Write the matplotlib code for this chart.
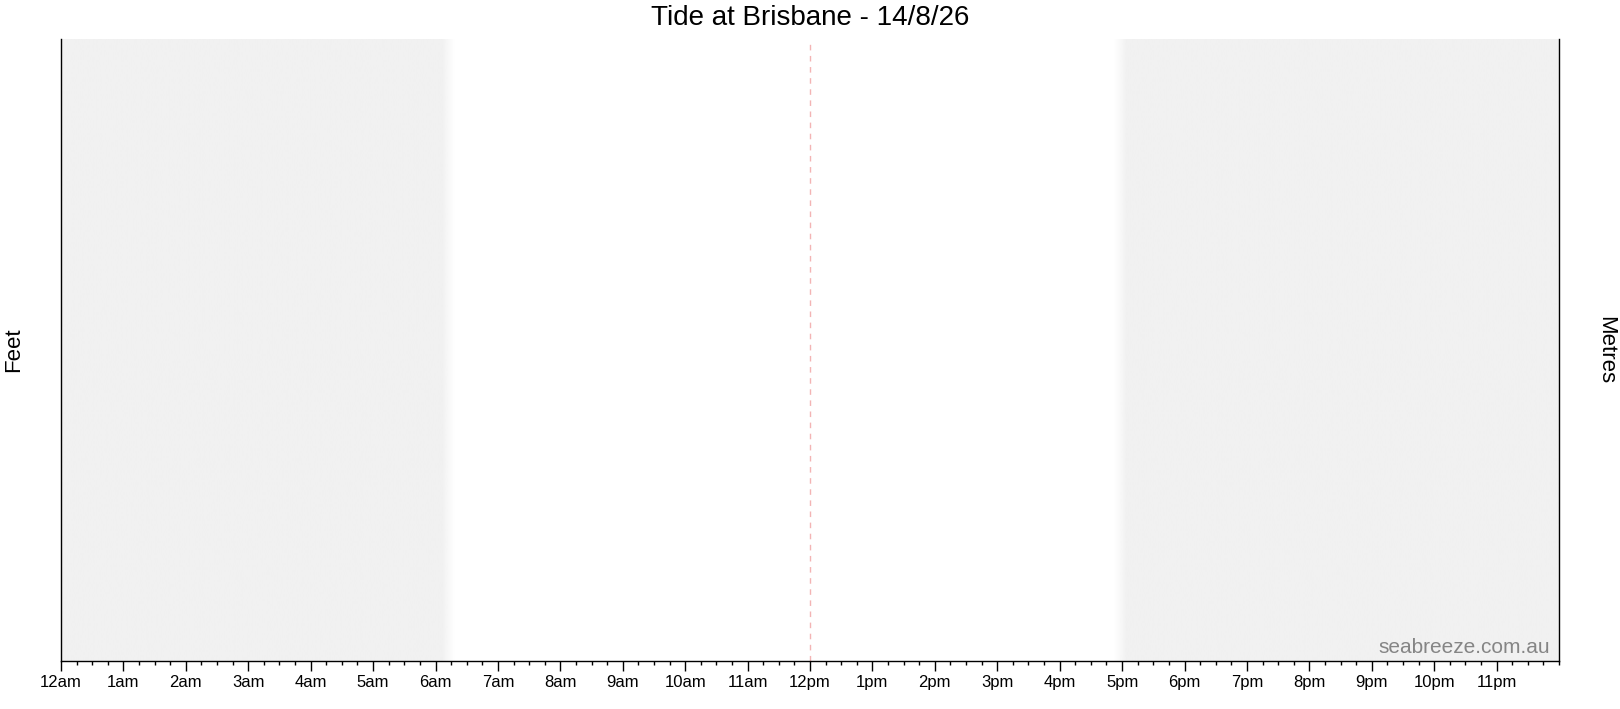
import numpy as np
import matplotlib
matplotlib.use("Agg")
import matplotlib.pyplot as plt
from matplotlib.ticker import MultipleLocator

title = "Tide at Brisbane - 14/8/26"
hour_labels = ["12am", "1am", "2am", "3am", "4am", "5am", "6am", "7am", "8am", "9am",
               "10am", "11am", "12pm", "1pm", "2pm", "3pm", "4pm", "5pm", "6pm", "7pm",
               "8pm", "9pm", "10pm", "11pm"]
hours = list(range(24))
sunrise = 6.2       # hours
sunset = 16.98      # hours
twilight = 0.2      # width of the shading fade, hours
noon = 12.0

plt.rcParams['font.family'] = ['Liberation Sans', 'DejaVu Sans']

fig = plt.figure(figsize=(16.2, 7.09), dpi=100)
ax = fig.add_axes([61/1620, 1-661/709, (1559-61)/1620, (661-39)/709])
ax.set_xlim(0, 24)
ax.set_ylim(0, 1)

# night shading with soft edges
xs = np.linspace(0, 24, 2401)
night = np.clip((sunrise + twilight/2 - xs) / twilight, 0, 1) + \
        np.clip((xs - (sunset - twilight/2)) / twilight, 0, 1)
night = np.clip(night, 0, 1)
grey = np.array([0xf1, 0xf1, 0xf1]) / 255.0
rgba = np.zeros((1, xs.size, 4))
rgba[0, :, :3] = grey
rgba[0, :, 3] = night
ax.imshow(rgba, extent=(0, 24, 0, 1), aspect='auto', interpolation='bilinear', zorder=0)

ax.axvline(noon, color='#f3b4b4', lw=1, ls=(0, (4, 4)), zorder=1)

for s in ['top']:
    ax.spines[s].set_visible(False)
for s in ['left', 'right', 'bottom']:
    ax.spines[s].set_color('black')
    ax.spines[s].set_linewidth(1)

ax.set_xticks(hours)
ax.set_xticklabels(hour_labels)
ax.xaxis.set_minor_locator(MultipleLocator(0.25))
ax.tick_params(axis='x', which='major', length=7, width=1, direction='out',
               labelsize=12, pad=3, colors='black')
ax.tick_params(axis='x', which='minor', length=3, width=1, direction='out')
ax.set_yticks([])

fig.text(0.5, 1-18/709, title, ha='center', va='center', fontsize=20,
         family=['Liberation Sans Narrow', 'Liberation Sans', 'DejaVu Sans'])
fig.text(14/1620, 1-350/709, "Feet", rotation=90, ha='center', va='center', fontsize=16)
fig.text(1606/1620, 1-350/709, "Metres", rotation=-90, ha='center', va='center', fontsize=16)
ax.text(0.9939, 0.006, "seabreeze.com.au", transform=ax.transAxes, ha='right', va='bottom',
        fontsize=15, color='#858585')

fig.savefig("out.png", dpi=100, facecolor='white')
